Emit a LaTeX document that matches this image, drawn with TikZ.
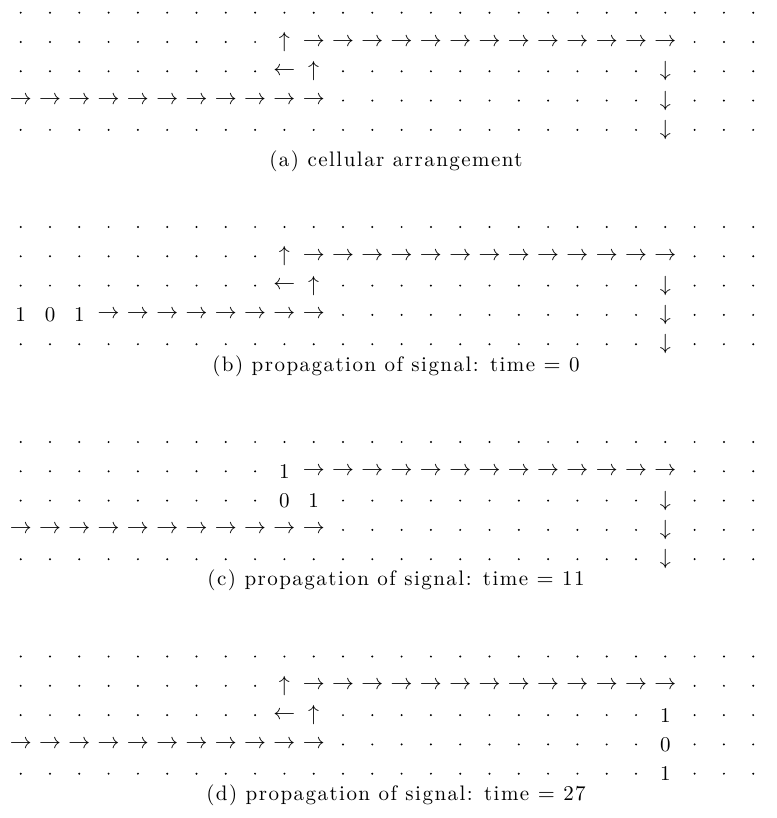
\documentclass[tikz,border=0pt]{standalone}
\usepackage{fontspec}
\setmainfont{Latin Modern Roman}
\newfontfamily\capfont{Latin Modern Roman}[LetterSpace=7]
\tikzset{
  sym/.style={inner sep=0pt, outer sep=0pt, font=\fontsize{10.5}{12}\selectfont},
  captext/.style={inner sep=0pt, outer sep=0pt, font=\fontsize{10.5}{12}\selectfont\capfont},
  griddot/.style={fill=black},
}
\newcommand\gdot[2]{\fill[griddot] (#1,#2) circle[radius=0.55pt];}
% #1 id, #2 y0 (px), #3 r1c9, #4 r2c9, #5 r2c10, #6 r2c22, #7 r3c22, #8 r4c22, #9 row 3 cols 0..2
\newcommand\cellpanel[9]{%
  \begin{scope}[shift={(20.7,#2)}, x=14.65pt, y=-14.65pt]
    \foreach \c in {0,1,...,25} {\gdot{\c}{0}}
    \foreach \c in {0,1,...,8,23,24,25} {\gdot{\c}{1}}
    \foreach \c in {0,1,...,8,11,12,...,21,23,24,25} {\gdot{\c}{2}}
    \foreach \c in {11,12,...,21,23,24,25} {\gdot{\c}{3}}
    \foreach \c in {0,1,...,21,23,24,25} {\gdot{\c}{4}}
    \foreach \c in {10,11,...,22} {\node[sym] (#1-\c-1) at (\c,1) {$\rightarrow$};}
    \foreach \c in {3,4,...,10} {\node[sym] (#1-\c-3) at (\c,3) {$\rightarrow$};}
    \foreach \c/\t in {#9} {\node[sym] (#1-\c-3) at (\c,3) {\t};}
    \node[sym] (#1-9-1) at (9,1) {#3};
    \node[sym] (#1-9-2) at (9,2) {#4};
    \node[sym] (#1-10-2) at (10,2) {#5};
    \node[sym] (#1-22-2) at (22,2) {#6};
    \node[sym] (#1-22-3) at (22,3) {#7};
    \node[sym] (#1-22-4) at (22,4) {#8};
  \end{scope}%
}
\begin{document}
\begin{tikzpicture}[x=0.5pt,y=-0.5pt]
\useasboundingbox (0,0) rectangle (776,818);
\cellpanel{a}{12.7}{$\uparrow$}{$\leftarrow$}{$\uparrow$}{$\downarrow$}{$\downarrow$}{$\downarrow$}{0/$\rightarrow$,1/$\rightarrow$,2/$\rightarrow$}
\node[captext] (capa) at (396,161) {(a) cellular arrangement};
\cellpanel{b}{227}{$\uparrow$}{$\leftarrow$}{$\uparrow$}{$\downarrow$}{$\downarrow$}{$\downarrow$}{0/1,1/0,2/1}
\node[captext] (capb) at (396,366) {(b) propagation of signal: time $=$ 0};
\cellpanel{c}{442}{1}{0}{1}{$\downarrow$}{$\downarrow$}{$\downarrow$}{0/$\rightarrow$,1/$\rightarrow$,2/$\rightarrow$}
\node[captext] (capc) at (396,580) {(c) propagation of signal: time $=$ 11};
\cellpanel{d}{656.5}{$\uparrow$}{$\leftarrow$}{$\uparrow$}{1}{0}{1}{0/$\rightarrow$,1/$\rightarrow$,2/$\rightarrow$}
\node[captext] (capd) at (396,795) {(d) propagation of signal: time $=$ 27};
\end{tikzpicture}
\end{document}
